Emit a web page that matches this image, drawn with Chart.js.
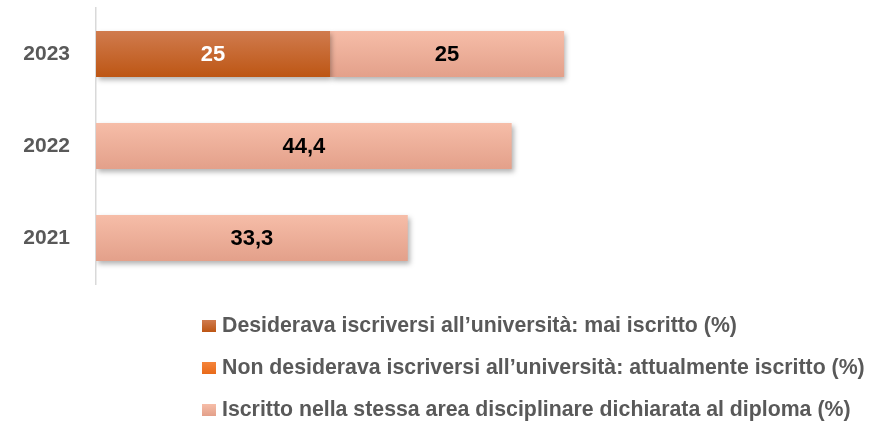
<!DOCTYPE html>
<html>
<head>
<meta charset="utf-8">
<script src="https://cdn.jsdelivr.net/npm/chart.js@4"></script>
<style>
  html, body { margin: 0; padding: 0; background: #fff; }
  #wrap { width: 874px; height: 421px; position: relative; }
</style>
</head>
<body>
<div id="wrap"><canvas id="chart" width="874" height="421"></canvas></div>
<script>
const years = ['2023', '2022', '2021'];
const desiderava = [25, null, null];
const nonDesiderava = [null, null, null];
const iscritto = [25, 44.4, 33.3];
const seriesNames = [
  'Desiderava iscriversi all\u2019università: mai iscritto (%)',
  'Non desiderava iscriversi all\u2019università: attualmente iscritto (%)',
  'Iscritto nella stessa area disciplinare dichiarata al diploma (%)'
];

const FONT = '"Liberation Sans Narrow", "Liberation Sans", sans-serif';
const gradColors = [
  ['#D07B4E', '#BD5614'],
  ['#F5843A', '#E86A1A'],
  ['#F6BDA8', '#E3A08A']
];

function barGradient(i) {
  return function (c) {
    const chart = c.chart;
    const ys = chart.scales.y;
    if (!ys || c.dataIndex == null) return gradColors[i][1];
    const yc = ys.getPixelForValue(c.dataIndex);
    if (!isFinite(yc)) return gradColors[i][1];
    const half = 23;
    const g = chart.ctx.createLinearGradient(0, yc - half, 0, yc + half);
    g.addColorStop(0, gradColors[i][0]);
    g.addColorStop(1, gradColors[i][1]);
    return g;
  };
}

// shadow under the bars
const shadowPlugin = {
  id: 'shadow',
  beforeDatasetsDraw(chart) {
    const ctx = chart.ctx;
    ctx.save();
    ctx.shadowColor = 'rgba(0,0,0,0.3)';
    ctx.shadowBlur = 5;
    ctx.shadowOffsetX = 2;
    ctx.shadowOffsetY = 3;
  },
  afterDatasetsDraw(chart) {
    chart.ctx.restore();
  }
};

// numbers inside the bars
const labelPlugin = {
  id: 'barLabels',
  afterDatasetsDraw(chart) {
    const ctx = chart.ctx;
    ctx.save();
    ctx.font = 'bold 22px ' + FONT;
    ctx.textAlign = 'center';
    ctx.textBaseline = 'middle';
    chart.data.datasets.forEach(function (ds, di) {
      const meta = chart.getDatasetMeta(di);
      meta.data.forEach(function (bar, i) {
        const v = ds.data[i];
        if (v == null) return;
        ctx.fillStyle = di === 0 ? '#ffffff' : '#000000';
        ctx.fillText(String(v).replace('.', ','), (bar.x + bar.base) / 2, bar.y + 1);
      });
    });
    ctx.restore();
  }
};

// legend stacked under the chart
const legendPlugin = {
  id: 'sideLegend',
  afterDraw(chart) {
    const ctx = chart.ctx;
    ctx.save();
    ctx.font = 'bold 21.3px ' + FONT;
    ctx.textBaseline = 'middle';
    const rows = [326, 368, 410];
    chart.data.datasets.forEach(function (ds, di) {
      const y = rows[di];
      const g = ctx.createLinearGradient(0, y - 6, 0, y + 6);
      g.addColorStop(0, gradColors[di][0]);
      g.addColorStop(1, gradColors[di][1]);
      ctx.fillStyle = g;
      ctx.fillRect(202, y - 6, 14, 12);
      ctx.fillStyle = '#595959';
      ctx.fillText(ds.label, 222, y);
    });
    ctx.restore();
  }
};

const datasetsIn = [desiderava, nonDesiderava, iscritto];

new Chart(document.getElementById('chart'), {
  type: 'bar',
  data: {
    labels: years,
    datasets: datasetsIn.map(function (d, i) {
      return {
        label: seriesNames[i],
        data: d,
        backgroundColor: barGradient(i),
        borderWidth: 0,
        categoryPercentage: 1,
        barPercentage: 0.5
      };
    })
  },
  options: {
    indexAxis: 'y',
    responsive: false,
    animation: false,
    layout: { padding: { top: 8, bottom: 137, right: 29, left: 0 } },
    plugins: {
      legend: { display: false },
      tooltip: { enabled: false }
    },
    scales: {
      x: {
        stacked: true,
        display: false,
        min: 0,
        max: 80
      },
      y: {
        stacked: true,
        afterFit(scale) {
          scale.width = 96;
          scale.paddingTop = 0;
          scale.paddingBottom = 0;
        },
        grid: { display: false, drawTicks: false },
        border: { display: true, color: '#D9D9D9', width: 1.5 },
        ticks: {
          padding: 26,
          color: '#595959',
          font: { family: FONT, size: 21, weight: 'bold' }
        }
      }
    }
  },
  plugins: [shadowPlugin, labelPlugin, legendPlugin]
});
</script>
</body>
</html>
